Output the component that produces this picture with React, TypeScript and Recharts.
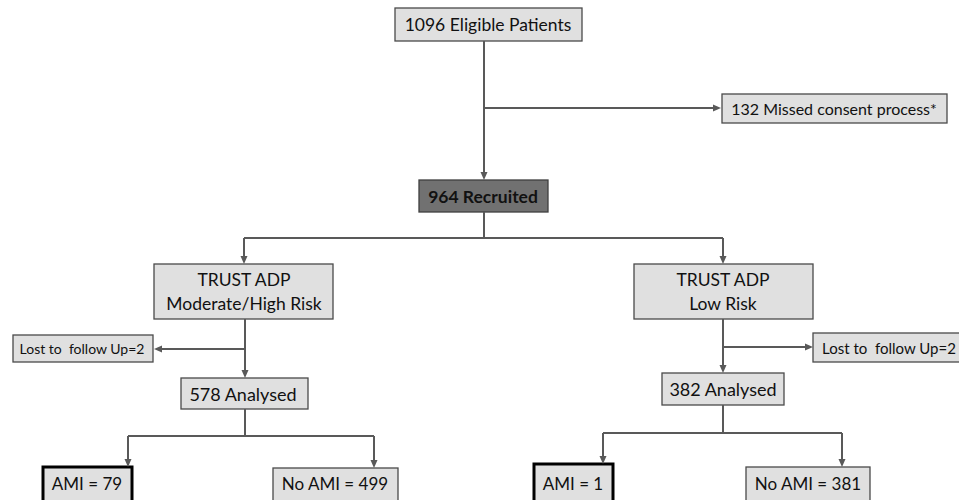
import React from 'react';
import { ComposedChart, XAxis, YAxis, ReferenceArea, ReferenceLine } from 'recharts';

// ---- data (counts in the flow) ----
const stageNames = ['eligible', 'missed', 'recruited', 'modHigh', 'low', 'lostLeft', 'lostRight', 'analysedLeft', 'analysedRight', 'amiLeft', 'noAmiLeft', 'amiRight', 'noAmiRight'];
const stageCounts = [1096, 132, 964, 0, 0, 2, 2, 578, 382, 79, 499, 1, 381];
const stageLabels: string[][] = [
  [`${stageCounts[0]} Eligible Patients`],
  [`${stageCounts[1]} Missed consent process*`],
  [`${stageCounts[2]} Recruited`],
  ['TRUST ADP', 'Moderate/High Risk'],
  ['TRUST ADP', 'Low Risk'],
  [`Lost to\u00a0 follow Up=${stageCounts[5]}`],
  [`Lost to\u00a0 follow Up=${stageCounts[6]}`],
  [`${stageCounts[7]} Analysed`],
  [`${stageCounts[8]} Analysed`],
  [`AMI = ${stageCounts[9]}`],
  [`No AMI = ${stageCounts[10]}`],
  [`AMI = ${stageCounts[11]}`],
  [`No AMI = ${stageCounts[12]}`],
];

// ---- layout (in the chart's own coordinate space) ----
const boxX1 = [395, 722, 419, 154, 634, 13, 813, 181, 662, 43, 273, 534, 746];
const boxX2 = [582, 947, 548, 333, 813, 153, 1000, 308, 784, 132, 398, 613, 870];
const boxY1 = [8, 94, 180, 264, 264, 335, 333, 378, 373, 467, 468, 464, 467];
const boxY2 = [41, 123, 212, 319, 319, 362, 362, 409, 405, 502, 502, 502, 502];
const boxKind = ['light', 'light', 'dark', 'light', 'light', 'light', 'light', 'light', 'light', 'bold', 'light', 'bold', 'light'];
const boxFont = [17.5, 16, 17.5, 17.5, 17.5, 14, 15, 18, 18, 17, 17, 17, 17];
const textX = [488, 834, 483, 244, 723, 82, 889, 243, 723, 87, 335, 573, 808];

// connectors: [x1, y1, x2, y2, arrowAtEnd]
const connectors: [number, number, number, number, boolean][] = [
  [484, 41, 484, 180, true],
  [484, 108, 721, 108, true],
  [484, 212, 484, 238, false],
  [244, 238, 723, 238, false],
  [244, 238, 244, 264, true],
  [723, 238, 723, 264, true],
  [245, 319, 245, 378, true],
  [245, 349, 154, 349, true],
  [723, 319, 723, 373, true],
  [723, 347, 813, 347, true],
  [245, 409, 245, 436, false],
  [128, 436, 374, 436, false],
  [128, 436, 128, 467, true],
  [374, 436, 374, 468, true],
  [723, 405, 723, 433, false],
  [603, 433, 842, 433, false],
  [603, 433, 603, 464, true],
  [842, 433, 842, 467, true],
];

const LINE = '#595959';

const makeArrow = (arrow: boolean) => (p: any) => {
  const { x1, y1, x2, y2 } = p;
  const dx = x2 - x1;
  const dy = y2 - y1;
  const len = Math.sqrt(dx * dx + dy * dy) || 1;
  const ux = dx / len;
  const uy = dy / len;
  const L = 8;
  const W = 3.5;
  const bx = x2 - ux * L;
  const by = y2 - uy * L;
  const pts = `${x2},${y2} ${bx - uy * W},${by + ux * W} ${bx + uy * W},${by - ux * W}`;
  return (
    <g>
      <line x1={x1} y1={y1} x2={arrow ? bx : x2} y2={arrow ? by : y2} stroke={LINE} strokeWidth={2} />
      {arrow && <polygon points={pts} fill={LINE} />}
    </g>
  );
};

const makeBox = (i: number) => (p: any) => {
  const { x, y, width, height } = p;
  const kind = boxKind[i];
  const fill = kind === 'dark' ? '#717171' : '#e0e0e0';
  const stroke = kind === 'bold' ? '#000' : kind === 'dark' ? '#3f3f3f' : '#4a4a4a';
  const sw = kind === 'bold' ? 3 : 1.3;
  const lines = stageLabels[i];
  const fs = boxFont[i];
  const lh = 24;
  const cy = i >= 9 ? 483 : y + height / 2;
  const startY = cy - ((lines.length - 1) * lh) / 2;
  return (
    <g>
      <rect x={x} y={y} width={width} height={height} fill={fill} stroke={stroke} strokeWidth={sw} />
      {lines.map((t, k) => (
        <text
          key={k}
          x={textX[i]}
          y={startY + k * lh}
          textAnchor="middle"
          dominantBaseline="central"
          fontFamily="Lato, 'Open Sans', sans-serif"
          fontSize={fs}
          fontWeight={kind === 'dark' ? 700 : 400}
          fill="#111"
        >
          {t}
        </text>
      ))}
    </g>
  );
};

export default function App() {
  return (
    <div style={{ position: 'absolute', left: 0, top: 0, width: 959, height: 500, background: '#fff' }}>
      <ComposedChart width={959} height={500} margin={{ top: 0, right: 0, bottom: 0, left: 0 }} data={[]}>
        <XAxis type="number" dataKey="x" domain={[0, 959]} hide allowDataOverflow />
        <YAxis type="number" dataKey="y" domain={[0, 500]} reversed hide allowDataOverflow />
        {connectors.map((c, i) => (
          <ReferenceLine
            key={`c${i}`}
            segment={[{ x: c[0], y: c[1] }, { x: c[2], y: c[3] }]}
            ifOverflow="visible"
            shape={makeArrow(c[4])}
          />
        ))}
        {stageNames.map((n, i) => (
          <ReferenceArea
            key={n}
            x1={boxX1[i]}
            x2={boxX2[i]}
            y1={boxY1[i]}
            y2={boxY2[i]}
            ifOverflow="visible"
            shape={makeBox(i)}
          />
        ))}
      </ComposedChart>
    </div>
  );
}
